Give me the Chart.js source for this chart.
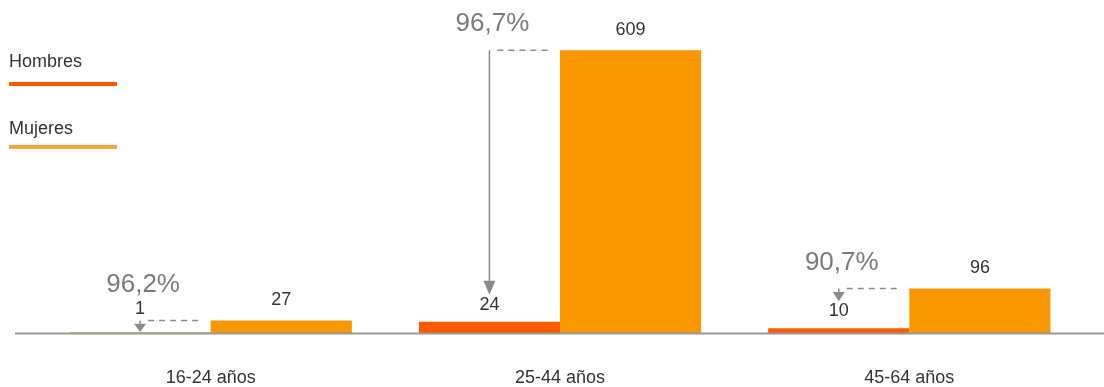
<!DOCTYPE html>
<html>
<head>
<meta charset="utf-8">
<script src="https://cdn.jsdelivr.net/npm/chart.js@4"></script>
<style>
  html, body { margin: 0; padding: 0; background: #ffffff; }
  canvas { display: block; }
</style>
</head>
<body>
<canvas id="c" width="1104" height="387"></canvas>
<script>
const categories = ['16-24 años', '25-44 años', '45-64 años'];
const hombres = [1, 24, 10];
const mujeres = [27, 609, 96];
const percentages = ['96,2%', '96,7%', '90,7%'];
const seriesNames = ['Hombres', 'Mujeres'];

const FONT = '"Liberation Sans", Arial, Helvetica, sans-serif';

const annotations = {
  id: 'annotations',
  afterDatasetsDraw(chart) {
    const ctx = chart.ctx;
    const area = chart.chartArea;
    const mH = chart.getDatasetMeta(0);
    const mM = chart.getDatasetMeta(1);
    ctx.save();

    // baseline
    ctx.strokeStyle = '#9a9a9a';
    ctx.lineWidth = 2;
    ctx.beginPath();
    ctx.moveTo(15, area.bottom + 0.5);
    ctx.lineTo(chart.width, area.bottom + 0.5);
    ctx.stroke();

    ctx.textAlign = 'center';
    ctx.textBaseline = 'middle';

    categories.forEach((c, i) => {
      const bh = mH.data[i];
      const bm = mM.data[i];
      const hx = bh.x;
      const hTop = bh.y;
      const mTop = bm.y;
      const mLeft = bm.x - bm.width / 2;

      // Mujeres value
      ctx.fillStyle = '#333333';
      ctx.font = '18px ' + FONT;
      ctx.fillText(String(mujeres[i]), bm.x, mTop - 20);

      let hLabelY = hTop - 17;
      let tip = hLabelY - 10;
      let pctY = mTop - 26;
      if (tip - mTop < 10) {
        tip = area.bottom - 1;
        hLabelY = mTop - 11;
        pctY = mTop - 36;
      }
      ctx.fillText(String(hombres[i]), hx, hLabelY);

      // percentage
      ctx.fillStyle = '#7a7a7a';
      ctx.font = '26px ' + FONT;
      ctx.fillText(percentages[i], hx + 3, pctY);

      // dashed line
      ctx.strokeStyle = '#8a8a8a';
      ctx.lineWidth = 1.5;
      ctx.setLineDash([6, 5]);
      ctx.beginPath();
      ctx.moveTo(hx + 8, mTop);
      ctx.lineTo(mLeft - 10, mTop);
      ctx.stroke();
      ctx.setLineDash([]);

      // arrow
      const len = tip - mTop;
      const headH = Math.min(14, len * 0.72);
      ctx.beginPath();
      ctx.moveTo(hx, mTop);
      ctx.lineTo(hx, tip - headH);
      ctx.stroke();
      ctx.fillStyle = '#8a8a8a';
      ctx.beginPath();
      ctx.moveTo(hx - 6, tip - headH);
      ctx.lineTo(hx + 6, tip - headH);
      ctx.lineTo(hx, tip);
      ctx.closePath();
      ctx.fill();
    });

    // legend
    ctx.textAlign = 'left';
    ctx.fillStyle = '#333333';
    ctx.font = '18px ' + FONT;
    ctx.fillText(seriesNames[0], 9, 62);
    ctx.fillStyle = '#ff5500';
    ctx.fillRect(9, 82, 108, 4);
    ctx.fillStyle = '#333333';
    ctx.fillText(seriesNames[1], 9, 129);
    ctx.fillStyle = '#f5a83a';
    ctx.fillRect(9, 145, 108, 4);

    ctx.restore();
  }
};

new Chart(document.getElementById('c'), {
  type: 'bar',
  data: {
    labels: categories,
    datasets: [
      { label: seriesNames[0], data: hombres, backgroundColor: '#ff5a00', borderWidth: 0 },
      { label: seriesNames[1], data: mujeres, backgroundColor: '#fa9600', borderWidth: 0 }
    ]
  },
  options: {
    responsive: false,
    animation: false,
    layout: { padding: { top: 8, left: 36, right: 20, bottom: 0 } },
    plugins: { legend: { display: false }, tooltip: { enabled: false } },
    datasets: { bar: { categoryPercentage: 0.808, barPercentage: 1.0 } },
    scales: {
      x: {
        grid: { display: false, drawTicks: false },
        border: { display: false },
        ticks: { color: '#333333', font: { family: FONT, size: 18 }, padding: 34 },
        afterFit(scale) { scale.height = 54; }
      },
      y: {
        display: false,
        min: 0,
        max: 700
      }
    }
  },
  plugins: [annotations]
});
</script>
</body>
</html>
